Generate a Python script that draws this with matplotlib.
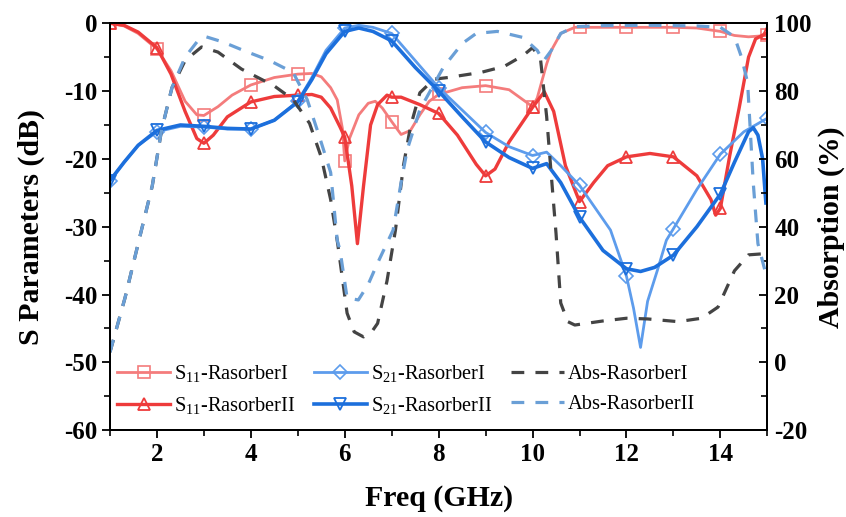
import numpy as np
import matplotlib
matplotlib.use("Agg")
import matplotlib.pyplot as plt
from matplotlib.ticker import MultipleLocator

plt.rcParams['font.family'] = ['Liberation Serif', 'DejaVu Serif']
plt.rcParams['mathtext.fontset'] = 'custom'
plt.rcParams['mathtext.rm'] = 'Liberation Serif'
plt.rcParams['mathtext.it'] = 'Liberation Serif:italic'
plt.rcParams['axes.unicode_minus'] = False

# S11 RasorberI (dB)
f_s11a = [1.0, 1.3, 1.6, 2.0, 2.3, 2.6, 2.85, 3.0, 3.3, 3.6, 4.0, 4.5, 5.0, 5.3, 5.5, 5.7,
          5.84, 5.95, 6.0, 6.1, 6.3, 6.5, 6.65, 6.8, 7.0, 7.2, 7.4, 7.6, 7.8, 8.0, 8.5, 9.0,
          9.5, 10.0, 10.1, 10.2, 10.3, 10.4, 10.6, 10.9, 11.0, 12.0, 13.0, 13.5, 14.0,
          14.3, 14.6, 15.0]
s11a = [0.0, -0.4, -1.5, -3.8, -7.0, -11.5, -13.5, -13.6, -12.3, -10.6, -9.1, -8.0, -7.5,
        -7.4, -7.9, -9.5, -11.3, -15.5, -20.3, -17.0, -13.5, -11.8, -11.5, -12.5, -14.5,
        -16.4, -15.8, -13.5, -11.5, -10.5, -9.5, -9.2, -9.8, -12.3, -11.0, -8.5, -6.0,
        -4.0, -1.5, -0.6, -0.6, -0.6, -0.6, -0.7, -1.2, -1.8, -2.0, -1.8]

# S11 RasorberII (dB)
f_s11b = [1.0, 1.3, 1.6, 2.0, 2.3, 2.6, 2.85, 3.0, 3.2, 3.5, 4.0, 4.5, 5.0, 5.3, 5.5, 5.7,
          5.9, 6.0, 6.15, 6.27, 6.4, 6.55, 6.7, 6.9, 7.0, 7.2, 7.6, 8.0, 8.4, 8.8, 9.0, 9.2,
          9.5, 10.0, 10.25, 10.45, 10.7, 11.0, 11.3, 11.6, 12.0, 12.5, 13.0, 13.5, 13.8,
          13.9, 14.0, 14.2, 14.4, 14.6, 14.75, 15.0]
s11b = [0.0, -0.3, -1.3, -3.6, -7.5, -13.0, -17.0, -17.7, -16.5, -13.8, -11.6, -10.8,
        -10.6, -10.5, -10.9, -12.5, -15.3, -16.8, -24.0, -32.5, -24.0, -15.0, -12.0,
        -10.6, -10.9, -10.9, -12.0, -13.3, -16.5, -20.8, -22.5, -21.5, -17.5, -12.4,
        -10.1, -13.0, -21.0, -26.3, -23.5, -21.0, -19.7, -19.2, -19.7, -22.5, -26.0,
        -28.3, -27.3, -19.5, -12.5, -5.0, -2.3, -1.4]

# S21 RasorberI (dB)
f_s21a = [1.0, 1.3, 1.6, 2.0, 2.5, 3.0, 3.5, 4.0, 4.5, 5.0, 5.3, 5.6, 6.0, 6.3, 6.6, 7.0,
          7.5, 8.0, 8.5, 9.0, 9.5, 10.0, 10.3, 10.6, 11.0, 11.66, 12.0, 12.15, 12.3,
          12.45, 12.66, 12.85, 13.0, 13.5, 14.0, 14.5, 15.0]
s21a = [-23.2, -20.5, -18.0, -16.0, -15.2, -15.3, -15.6, -15.6, -14.3, -11.5, -8.0, -4.0,
        -0.7, -0.3, -0.6, -1.5, -5.5, -9.5, -12.8, -16.1, -18.2, -19.5, -19.0, -21.0,
        -23.9, -30.5, -37.3, -42.0, -47.8, -41.0, -36.4, -32.0, -30.3, -24.5, -19.3,
        -16.0, -14.0]

# S21 RasorberII (dB)
f_s21b = [1.0, 1.3, 1.6, 2.0, 2.5, 3.0, 3.5, 4.0, 4.5, 5.0, 5.3, 5.6, 6.0, 6.3, 6.6, 7.0,
          7.5, 8.0, 8.5, 9.0, 9.5, 10.0, 10.3, 10.6, 11.0, 11.5, 12.0, 12.3, 12.6, 13.0,
          13.5, 14.0, 14.3, 14.6, 14.7, 14.8, 14.9, 14.97]
s21b = [-23.2, -20.5, -18.0, -15.8, -15.0, -15.2, -15.5, -15.6, -14.3, -11.6, -8.3, -4.5,
        -1.2, -0.7, -1.2, -2.6, -6.5, -10.0, -13.8, -17.5, -19.8, -21.4, -20.7, -23.5,
        -28.6, -33.5, -36.2, -36.6, -36.0, -34.2, -30.0, -25.2, -20.5, -16.0, -15.4,
        -16.5, -20.0, -26.5]

# Absorption RasorberI (%)
f_absa = [1.0, 1.32, 1.6, 1.9, 2.1, 2.32, 2.6, 2.95, 3.3, 3.8, 4.5, 4.9, 5.25, 5.5, 5.7,
          5.85, 6.05, 6.2, 6.4, 6.6, 6.7, 6.9, 7.08, 7.25, 7.4, 7.6, 7.9, 8.2, 8.9, 9.4,
          9.8, 10.0, 10.17, 10.3, 10.4, 10.5, 10.6, 10.75, 10.9, 11.5, 12.0, 12.45, 13.1,
          13.6, 13.95, 14.3, 14.6, 14.9, 15.0]
absa = [3.0, 19.0, 35.0, 52.0, 68.6, 81.0, 89.0, 93.0, 91.5, 86.5, 81.5, 77.5, 70.5, 60.5,
        48.0, 35.0, 14.5, 9.0, 7.5, 9.5, 11.5, 24.0, 39.0, 58.0, 69.5, 79.5, 83.5, 84.0,
        85.5, 87.3, 90.5, 92.8, 89.4, 72.5, 55.0, 38.0, 17.5, 12.0, 11.0, 12.2, 13.0,
        12.8, 12.0, 13.0, 16.3, 27.0, 31.7, 32.0, 32.0]

# Absorption RasorberII (%)
f_absb = [1.0, 1.32, 1.6, 1.9, 2.1, 2.32, 2.6, 2.88, 3.05, 3.4, 3.84, 4.4, 4.9,
          5.2, 5.45, 5.7, 5.84, 5.9, 6.05, 6.29, 6.5, 6.69, 7.03, 7.2, 7.33, 7.6, 8.1, 8.5,
          8.8, 9.25, 9.8, 10.1, 10.23, 10.4, 10.6, 10.9, 11.5, 12.5, 13.5, 14.0, 14.3,
          14.45, 14.58, 14.7, 14.8, 14.97]
absb = [3.0, 19.0, 35.0, 52.0, 68.6, 81.0, 90.0, 95.0, 96.0, 94.5, 92.0, 89.0,
        85.5, 77.5, 67.0, 56.0, 36.0, 33.0, 19.0, 18.4, 23.0, 29.0, 39.0, 53.0, 62.7, 74.5,
        87.0, 94.0, 97.0, 97.6, 95.8, 92.0, 88.8, 92.0, 97.0, 99.0, 99.3, 99.4, 99.2,
        98.8, 96.0, 90.0, 82.5, 53.0, 35.0, 26.0]

labels = ['S$_{11}$-RasorberI', 'S$_{11}$-RasorberII', 'S$_{21}$-RasorberI',
          'S$_{21}$-RasorberII', 'Abs-RasorberI', 'Abs-RasorberII']


def on_integers(xs):
    return [i for i, v in enumerate(xs) if abs(v - round(v)) < 1e-9]


fig = plt.figure(figsize=(8.46, 5.17), dpi=100)
ax = fig.add_axes([0.130, 0.168, 0.777, 0.787])
ax2 = ax.twinx()

h1, = ax.plot(f_s11a, s11a, color='#F47C7C', lw=2.0, marker='s', ms=8, mew=1.2,
              fillstyle='none', markevery=on_integers(f_s11a), zorder=3)
h2, = ax.plot(f_s11b, s11b, color='#EE3B3B', lw=2.4, marker='^', ms=9, mew=1.3,
              fillstyle='none', markevery=on_integers(f_s11b), zorder=3)
h3, = ax.plot(f_s21a, s21a, color='#5D9CEC', lw=2.0, marker='D', ms=7.5, mew=1.2,
              fillstyle='none', markevery=on_integers(f_s21a), zorder=4)
h4, = ax.plot(f_s21b, s21b, color='#1C6FDC', lw=2.6, marker='v', ms=9, mew=1.3,
              fillstyle='none', markevery=on_integers(f_s21b), zorder=4)
h5, = ax2.plot(f_absa, absa, color='#444444', lw=2.3, ls=(0, (4, 3.5)))
h6, = ax2.plot(f_absb, absb, color='#6A9FD6', lw=2.3, ls=(0, (4, 3.5)))

ax.set_xlim(1, 15)
ax.set_ylim(-60, 0)
ax2.set_ylim(-20, 100)

ax.xaxis.set_major_locator(MultipleLocator(2))
ax.xaxis.set_minor_locator(MultipleLocator(1))
ax.yaxis.set_major_locator(MultipleLocator(10))
ax.yaxis.set_minor_locator(MultipleLocator(5))
ax2.yaxis.set_major_locator(MultipleLocator(20))
ax2.yaxis.set_minor_locator(MultipleLocator(10))

ax.tick_params(axis='both', which='major', direction='out', length=6, width=1.3,
               labelsize=18, pad=3)
ax.tick_params(axis='both', which='minor', direction='out', length=4, width=1.2)
ax2.tick_params(axis='y', which='major', direction='in', length=6, width=1.3,
                labelsize=18, pad=5)
ax2.tick_params(axis='y', which='minor', direction='in', length=4, width=1.2)
for a in (ax, ax2):
    for lab in a.get_xticklabels() + a.get_yticklabels():
        lab.set_fontweight('bold')
    for s in a.spines.values():
        s.set_linewidth(1.4)

ax.set_xlabel('Freq (GHz)', fontsize=21.5, fontweight='bold', labelpad=14)
ax.set_ylabel('S Parameters (dB)', fontsize=21.5, fontweight='bold', labelpad=14)
ax2.set_ylabel('Absorption (%)', fontsize=21.5, fontweight='bold', labelpad=4)

ax2.legend([h1, h2, h3, h4, h5, h6], labels, ncol=3, loc='lower left',
           bbox_to_anchor=(0.011, 0.035), frameon=False, fontsize=14.7,
           borderpad=0, borderaxespad=0,
           handlelength=2.6, columnspacing=0.9, labelspacing=0.55,
           handletextpad=0.2)

fig.savefig('out.png', dpi=100)
